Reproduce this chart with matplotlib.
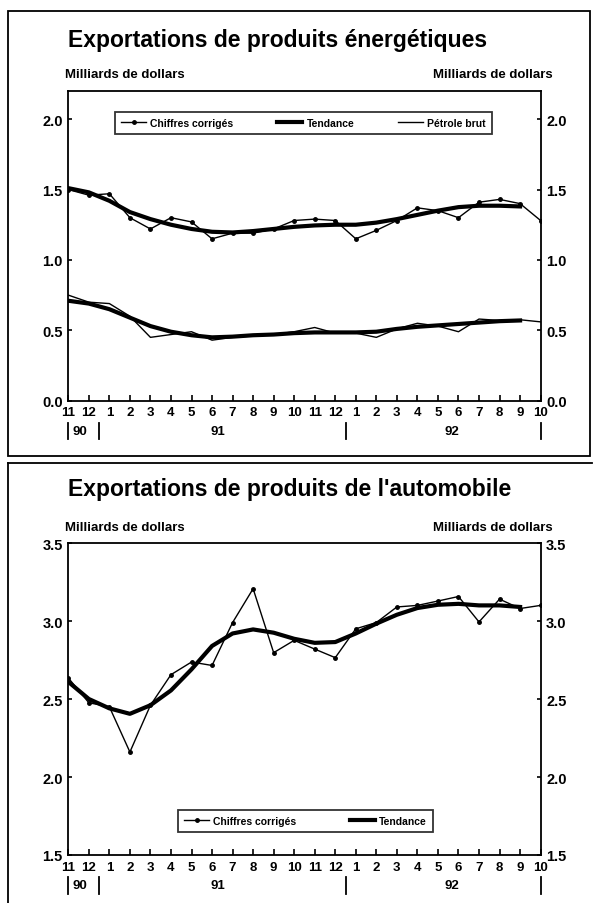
import matplotlib
matplotlib.use("Agg")
import matplotlib.pyplot as plt
from matplotlib.patches import Rectangle
from matplotlib.lines import Line2D

plt.rcParams['font.family'] = ['Liberation Sans', 'DejaVu Sans']
plt.rcParams['font.weight'] = 'bold'

# months from Nov 1990 to Oct 1992
months = ['11', '12', '1', '2', '3', '4', '5', '6', '7', '8', '9', '10',
          '11', '12', '1', '2', '3', '4', '5', '6', '7', '8', '9', '10']
years = ['90', '91', '92']
year_pos = [0.55, 7.3, 18.7]
year_marks = [0, 1.5, 13.5, 23]

# energy exports (billions of dollars)
energy_adj = [1.50, 1.46, 1.47, 1.30, 1.22, 1.30, 1.27, 1.15, 1.19, 1.19, 1.22, 1.28,
              1.29, 1.28, 1.15, 1.21, 1.28, 1.37, 1.35, 1.30, 1.41, 1.43, 1.40, 1.28]
energy_trend = [1.51, 1.48, 1.42, 1.34, 1.29, 1.25, 1.22, 1.20, 1.195, 1.205, 1.22, 1.235,
                1.245, 1.25, 1.25, 1.265, 1.29, 1.32, 1.35, 1.375, 1.385, 1.385, 1.38]
crude = [0.75, 0.70, 0.69, 0.60, 0.45, 0.47, 0.49, 0.43, 0.45, 0.46, 0.47, 0.49,
         0.52, 0.48, 0.48, 0.45, 0.51, 0.55, 0.53, 0.49, 0.58, 0.57, 0.575, 0.56]
crude_trend = [0.71, 0.69, 0.65, 0.59, 0.53, 0.49, 0.465, 0.45, 0.455, 0.465, 0.47, 0.48,
               0.485, 0.485, 0.485, 0.49, 0.51, 0.525, 0.535, 0.545, 0.555, 0.565, 0.57]

# automotive exports (billions of dollars)
auto_adj = [2.635, 2.476, 2.45, 2.16, 2.46, 2.656, 2.737, 2.715, 2.99, 3.207, 2.797, 2.876,
            2.82, 2.765, 2.95, 2.99, 3.09, 3.10, 3.128, 3.157, 2.994, 3.14, 3.08, 3.10]
auto_trend = [2.61, 2.50, 2.44, 2.405, 2.46, 2.555, 2.69, 2.84, 2.92, 2.946, 2.925, 2.886,
              2.86, 2.865, 2.92, 2.983, 3.04, 3.083, 3.104, 3.11, 3.10, 3.10, 3.09]

W, H = 593, 904


def fx(px):
    return px / W


def fy(py):
    return 1 - py / H


def style_axes(ax, ymin, ymax, yticks):
    x = list(range(len(months)))
    ax.set_xlim(0, len(months) - 1)
    ax.set_ylim(ymin, ymax)
    ax.set_xticks(x, months)
    ax.set_yticks(yticks, ['%.1f' % t for t in yticks])
    ax.tick_params(axis='x', direction='in', length=4, width=1.2, pad=4, labelsize=9.5)
    ax.tick_params(axis='y', direction='in', length=3, width=1.2, pad=4, labelsize=10.5,
                   right=True, labelright=True)
    for s in ax.spines.values():
        s.set_linewidth(1.3)
    tr = ax.get_xaxis_transform()
    for xp, lab in zip(year_pos, years):
        ax.text(xp, -0.097, lab, transform=tr, ha='center', va='center', fontsize=9.5)
    for xm in year_marks:
        ax.plot([xm, xm], [-0.072, -0.125], transform=tr, color='black', lw=1.3, clip_on=False)


fig = plt.figure(figsize=(W / 100, H / 100), dpi=100)

# panel frames
fig.patches.append(Rectangle((fx(8), fy(457)), fx(590) - fx(8), fy(12) - fy(457),
                             transform=fig.transFigure, fill=False, lw=1.3, color='black'))
fig.add_artist(Line2D([fx(8), fx(592)], [fy(464), fy(464)], lw=1.3, color='black'))
fig.add_artist(Line2D([fx(8), fx(8)], [fy(464), 0], lw=1.3, color='black'))

# top chart
ax1 = fig.add_axes([fx(68.3), fy(401.7), fx(540.6) - fx(68.3), fy(92) - fy(401.7)])
x_all = list(range(len(months)))
ax1.plot(x_all, energy_adj, color='black', lw=1.0, marker='o', ms=2.5, label='Chiffres corrigés')
ax1.plot(x_all[:len(energy_trend)], energy_trend, color='black', lw=3.0, label='Tendance')
ax1.plot(x_all, crude, color='black', lw=1.0, label='Pétrole brut')
ax1.plot(x_all[:len(crude_trend)], crude_trend, color='black', lw=3.0)
style_axes(ax1, 0, 2.2, [0.0, 0.5, 1.0, 1.5, 2.0])
leg = ax1.legend(loc='center', ncol=3, bbox_to_anchor=(0.088, 0.842, 0.82, 0.11), mode='expand',
                 fancybox=False, edgecolor='black', fontsize=7.5, handlelength=2.4,
                 borderpad=0.6, columnspacing=1.5, handletextpad=0.4)
leg.get_frame().set_linewidth(1.3)

fig.text(fx(68), fy(40), 'Exportations de produits énergétiques', fontsize=16.5,
         fontweight='bold', va='center', ha='left')
fig.text(fx(65), fy(75), 'Milliards de dollars', fontsize=9.5, va='center', ha='left')
fig.text(fx(553), fy(75), 'Milliards de dollars', fontsize=9.5, va='center', ha='right')

# bottom chart
ax2 = fig.add_axes([fx(68.3), fy(856), fx(540.6) - fx(68.3), fy(544) - fy(856)])
ax2.plot(x_all, auto_adj, color='black', lw=1.0, marker='o', ms=2.5, label='Chiffres corrigés')
ax2.plot(x_all[:len(auto_trend)], auto_trend, color='black', lw=3.0, label='Tendance')
style_axes(ax2, 1.5, 3.5, [1.5, 2.0, 2.5, 3.0, 3.5])
leg2 = ax2.legend(loc='center', ncol=2, bbox_to_anchor=(0.221, 0.064, 0.562, 0.09), mode='expand',
                  fancybox=False, edgecolor='black', fontsize=7.5, handlelength=2.4,
                  borderpad=0.6, columnspacing=1.5, handletextpad=0.4)
leg2.get_frame().set_linewidth(1.3)

fig.text(fx(68), fy(490), "Exportations de produits de l'automobile", fontsize=16.5,
         fontweight='bold', va='center', ha='left')
fig.text(fx(65), fy(528), 'Milliards de dollars', fontsize=9.5, va='center', ha='left')
fig.text(fx(553), fy(528), 'Milliards de dollars', fontsize=9.5, va='center', ha='right')

fig.savefig('out.png', dpi=100)
